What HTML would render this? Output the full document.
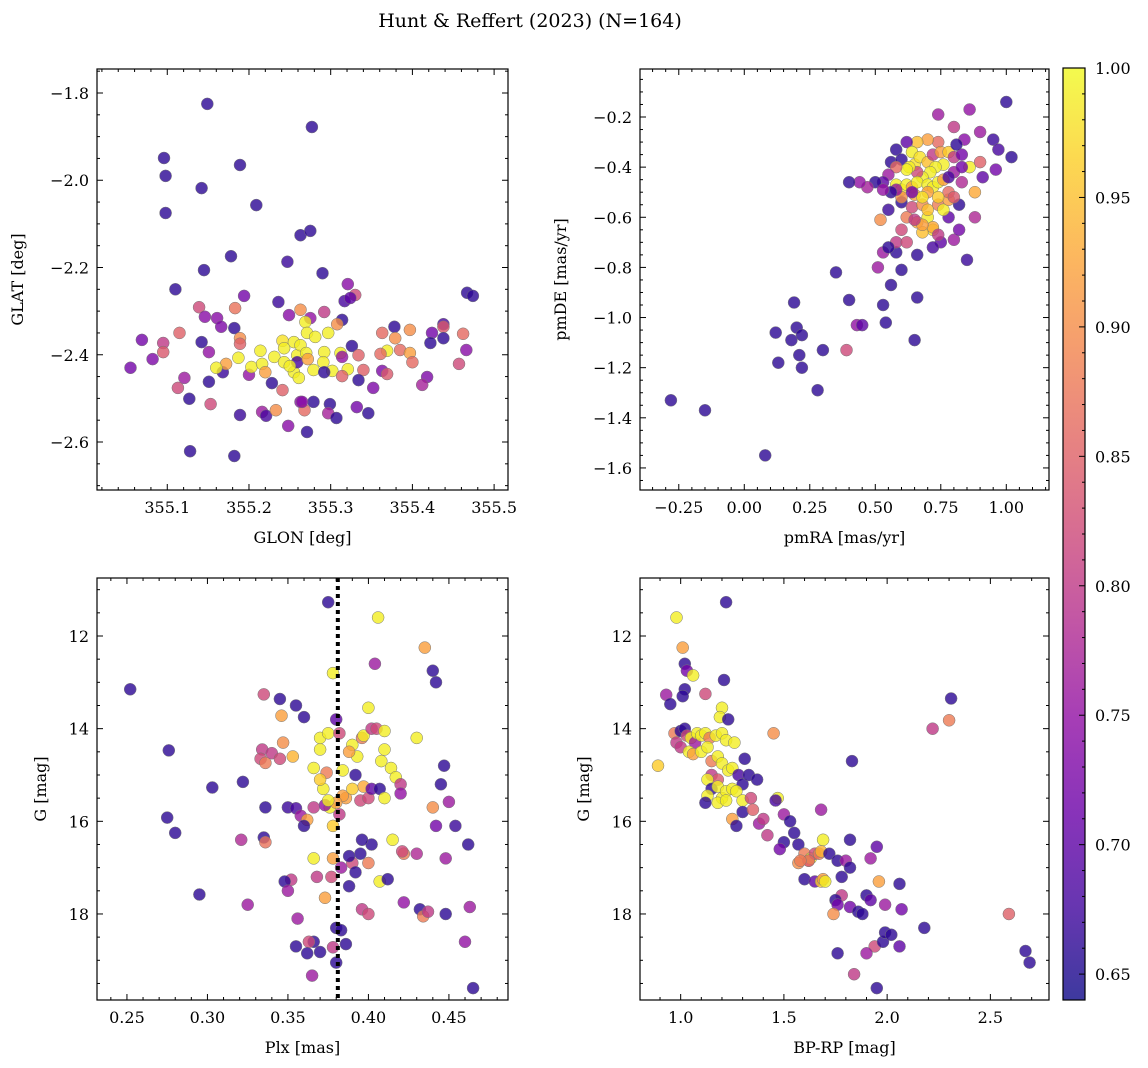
<!DOCTYPE html>
<html><head><meta charset="utf-8">
<style>
html,body{margin:0;padding:0;background:#fff;}
svg{display:block;font-family:"DejaVu Serif","Liberation Serif",serif;}
</style></head>
<body>
<svg id="fig" width="1148" height="1068" viewBox="0 0 1148 1068" xmlns="http://www.w3.org/2000/svg">
<text x="530" y="27" font-size="19" text-anchor="middle">Hunt &amp; Reffert (2023) (N=164)</text>
</svg>
<script>
// ---- Panel 1: GLON / GLAT ----
const p1Glon=[355.149,355.277,355.096,355.098,355.189,355.142,355.098,355.209,355.263,355.275,355.178,355.247,355.145,355.290,
355.110,355.194,355.139,355.183,355.146,355.161,355.166,355.182,355.236,355.249,355.263,355.069,355.095,355.115,355.142,355.151,
355.189,355.189,355.095,355.082,355.055,355.121,355.113,355.151,355.168,355.127,355.153,355.189,355.216,355.221,355.248,355.128,
355.182,355.200,355.228,355.241,355.263,355.214,355.203,355.216,355.231,355.243,355.241,355.255,355.259,355.220,355.255,355.261,
355.243,355.259,355.321,355.330,355.317,355.324,355.292,355.314,355.308,355.275,355.269,355.271,355.297,355.281,355.263,355.270,
355.292,355.291,355.279,355.302,355.321,355.312,355.326,355.334,355.314,355.340,355.314,355.292,355.272,355.334,355.352,355.363,
355.378,355.397,355.379,355.369,355.361,355.385,355.397,355.400,355.363,355.369,355.424,355.422,355.438,355.438,355.438,355.462,
355.466,355.457,355.467,355.474,355.418,355.412,355.279,355.299,355.297,355.307,355.332,355.346,355.271,355.268,355.265,355.233,
355.250,355.187,355.172,355.160];
const p1Glat=[-1.825,-1.878,-1.949,-1.990,-1.965,-2.018,-2.075,-2.057,-2.126,-2.116,-2.174,-2.187,-2.206,-2.213,
-2.250,-2.265,-2.291,-2.293,-2.313,-2.316,-2.336,-2.339,-2.279,-2.309,-2.297,-2.366,-2.373,-2.350,-2.371,-2.394,
-2.362,-2.375,-2.394,-2.410,-2.430,-2.453,-2.476,-2.462,-2.440,-2.501,-2.513,-2.538,-2.531,-2.540,-2.563,-2.621,
-2.632,-2.446,-2.465,-2.481,-2.508,-2.391,-2.428,-2.421,-2.405,-2.417,-2.368,-2.371,-2.401,-2.440,-2.440,-2.453,
-2.385,-2.417,-2.238,-2.263,-2.277,-2.270,-2.302,-2.320,-2.330,-2.316,-2.325,-2.350,-2.350,-2.359,-2.378,-2.396,
-2.394,-2.417,-2.435,-2.437,-2.433,-2.396,-2.380,-2.401,-2.405,-2.435,-2.449,-2.440,-2.410,-2.458,-2.476,-2.350,
-2.336,-2.343,-2.362,-2.391,-2.398,-2.389,-2.396,-2.417,-2.437,-2.444,-2.350,-2.373,-2.330,-2.336,-2.362,-2.352,
-2.389,-2.421,-2.258,-2.265,-2.451,-2.469,-2.508,-2.513,-2.534,-2.545,-2.520,-2.534,-2.577,-2.527,-2.508,-2.527,
-2.426,-2.407,-2.421,-2.430];
const p1Prob=[.66,.66,.66,.66,.66,.66,.66,.66,.66,.66,.66,.67,.66,.66,
.66,.72,.82,.87,.74,.74,.73,.66,.67,.74,.90,.72,.80,.85,.66,.75,
.90,.85,.84,.73,.72,.76,.82,.66,.67,.66,.82,.67,.76,.68,.74,.66,
.66,.75,.66,.85,.74,.99,.99,.99,.99,.99,.98,.99,.99,.92,.99,.99,
.99,.68,.74,.82,.68,.70,.80,.66,.90,.75,.99,.99,.99,.99,.99,.99,
.99,.99,.99,.99,.99,.99,.66,.85,.75,.85,.85,.66,.92,.66,.73,.86,
.66,.90,.90,.99,.86,.86,.92,.86,.73,.84,.72,.66,.68,.84,.66,.86,
.74,.82,.66,.66,.73,.77,.66,.66,.77,.66,.72,.66,.66,.86,.74,.90,
.99,.99,.92,.99];

// ---- Panel 2: pmRA / pmDE ----
const p2PmRA=[-0.28,-0.15,0.08,0.28,0.21,0.22,0.13,0.12,0.18,0.20,0.19,0.22,0.30,0.35,0.40,0.39,0.43,0.45,0.53,0.54,0.56,0.65,0.66,0.60,0.58,0.53,0.51,0.58,0.55,0.62,0.66,0.75,0.72,0.80,0.82,0.85,0.88,0.78,0.72,0.68,0.70,0.66,0.62,0.52,0.55,0.60,0.64,0.68,0.74,0.76,0.78,0.82,0.78,0.83,0.88,0.86,0.90,0.91,0.96,0.95,0.97,1.00,1.02,0.86,0.80,0.84,0.74,0.74,0.70,0.66,0.62,0.58,0.56,0.60,0.64,0.65,0.67,0.70,0.72,0.75,0.78,0.80,0.83,0.76,0.73,0.71,0.68,0.66,0.63,0.62,0.58,0.55,0.53,0.50,0.47,0.44,0.40,0.58,0.60,0.62,0.64,0.66,0.70,0.72,0.74,0.76,0.80,0.83,0.78,0.70,0.65,0.60,0.58,0.56,0.53,0.68,0.74,0.80,0.70,0.72,0.68,0.74,0.60,0.65,0.90,0.81,0.64];
const p2PmDE=[-1.33,-1.37,-1.55,-1.29,-1.15,-1.20,-1.18,-1.06,-1.09,-1.04,-0.94,-1.07,-1.13,-0.82,-0.93,-1.13,-1.03,-1.03,-0.95,-1.02,-0.87,-1.09,-0.92,-0.81,-0.74,-0.74,-0.80,-0.70,-0.72,-0.70,-0.75,-0.70,-0.72,-0.69,-0.65,-0.77,-0.60,-0.60,-0.65,-0.66,-0.60,-0.62,-0.60,-0.61,-0.57,-0.54,-0.56,-0.55,-0.55,-0.57,-0.53,-0.55,-0.50,-0.46,-0.50,-0.40,-0.38,-0.44,-0.41,-0.29,-0.33,-0.14,-0.36,-0.17,-0.24,-0.29,-0.19,-0.30,-0.29,-0.30,-0.30,-0.33,-0.38,-0.37,-0.34,-0.39,-0.36,-0.38,-0.35,-0.34,-0.34,-0.36,-0.35,-0.39,-0.40,-0.42,-0.44,-0.42,-0.40,-0.41,-0.40,-0.43,-0.46,-0.46,-0.48,-0.46,-0.46,-0.47,-0.49,-0.47,-0.48,-0.46,-0.47,-0.48,-0.46,-0.45,-0.42,-0.40,-0.44,-0.50,-0.51,-0.52,-0.49,-0.50,-0.49,-0.52,-0.52,-0.52,-0.57,-0.64,-0.63,-0.67,-0.65,-0.61,-0.26,-0.31,-0.50];
const p2Prob=[.66,.66,.66,.66,.66,.66,.66,.66,.66,.66,.66,.66,.66,.66,.66,.82,.75,.70,.66,.66,.66,.66,.66,.66,.66,.76,.76,.80,.66,.82,.66,.70,.68,.76,.72,.67,.78,.70,.98,.95,.99,.93,.88,.90,.67,.66,.82,.90,.88,.99,.92,.66,.86,.78,.93,.99,.85,.70,.72,.67,.68,.66,.66,.75,.80,.74,.76,.86,.92,.95,.70,.66,.66,.66,.99,.98,.98,.95,.80,.92,.96,.80,.72,.99,.99,.99,.99,.82,.99,.99,.86,.76,.70,.66,.77,.75,.66,.99,.98,.99,.92,.99,.99,.99,.99,.92,.76,.72,.68,.92,.93,.90,.75,.66,.75,.98,.96,.84,.95,.93,.92,.80,.82,.80,.76,.66,.72];

// ---- Panel 3: Plx / G ----
const p3Plx=[0.252,0.276,0.275,0.280,0.295,0.303,0.322,0.321,0.325,0.335,0.345,0.346,0.355,0.360,0.334,0.333,0.336,0.340,0.347,0.353,0.345,0.336,0.335,0.336,0.350,0.355,0.358,0.362,0.360,0.366,0.372,0.374,0.370,0.370,0.375,0.378,0.380,0.382,0.384,0.386,0.382,0.376,0.378,0.373,0.370,0.366,0.390,0.393,0.396,0.397,0.400,0.402,0.405,0.410,0.410,0.408,0.392,0.397,0.395,0.400,0.402,0.407,0.410,0.414,0.417,0.420,0.420,0.430,0.435,0.440,0.442,0.447,0.445,0.450,0.440,0.454,0.442,0.462,0.448,0.422,0.430,0.421,0.415,0.402,0.400,0.396,0.395,0.390,0.388,0.392,0.388,0.383,0.378,0.377,0.373,0.368,0.366,0.352,0.348,0.350,0.356,0.366,0.370,0.363,0.362,0.355,0.365,0.380,0.383,0.386,0.378,0.380,0.375,0.406,0.404,0.407,0.412,0.422,0.432,0.434,0.437,0.448,0.460,0.463,0.465,0.396,0.400,0.384,0.388,0.380,0.375,0.390];
const p3G=[13.15,14.47,15.92,16.25,17.58,15.27,15.15,16.40,17.80,13.26,13.36,13.72,13.50,13.75,14.45,14.65,14.74,14.53,14.30,14.60,14.65,15.70,16.35,16.45,15.70,15.72,15.88,15.97,16.10,15.70,15.30,14.95,14.45,14.20,14.10,12.80,13.80,14.10,14.90,15.50,15.85,15.70,16.10,15.65,15.10,14.85,14.35,14.60,14.20,14.15,13.55,14.00,14.00,14.05,14.45,14.70,15.00,15.25,15.55,15.50,15.30,15.30,15.50,14.85,15.05,15.20,15.40,14.20,12.25,12.75,13.00,14.80,15.20,15.58,15.70,16.10,16.10,16.50,16.80,16.70,16.70,16.65,16.40,16.50,16.90,16.40,16.70,16.90,16.75,17.10,17.40,17.00,16.80,17.20,17.65,17.20,16.80,17.26,17.30,17.50,18.10,18.60,18.82,18.60,18.85,18.70,19.33,18.30,18.35,18.65,18.72,19.05,11.27,11.60,12.60,17.30,17.25,17.75,17.90,18.05,17.95,18.00,18.60,17.85,19.60,17.90,18.00,15.45,14.50,15.60,15.55,15.30];
const p3Prob=[.66,.66,.66,.66,.66,.66,.66,.78,.76,.82,.66,.92,.66,.66,.80,.82,.88,.80,.90,.94,.82,.66,.66,.87,.67,.68,.76,.92,.66,.80,.99,.88,.99,.99,.99,.99,.70,.82,.99,.92,.80,.99,.96,.75,.96,.99,.99,.99,.88,.99,.99,.80,.82,.99,.99,.99,.66,.93,.82,.82,.70,.66,.99,.99,.99,.80,.75,.99,.92,.66,.66,.66,.66,.76,.90,.67,.72,.66,.76,.88,.78,.82,.99,.66,.88,.66,.66,.82,.66,.66,.66,.76,.92,.82,.92,.80,.99,.80,.66,.76,.76,.66,.66,.82,.66,.66,.76,.66,.66,.66,.80,.66,.66,.99,.76,.99,.66,.75,.66,.88,.80,.66,.75,.76,.66,.80,.82,.92,.92,.92,.99,.96];

// ---- Panel 4: BP-RP / G ----
const p4BpRp=[0.98,1.22,1.01,1.02,1.03,1.06,1.02,1.21,0.93,0.95,1.01,1.12,1.20,1.19,1.23,0.89,0.97,0.98,1.00,1.02,1.03,1.05,1.07,1.08,1.10,1.12,1.14,1.17,1.20,1.22,1.26,1.00,1.04,1.06,1.10,1.13,1.15,1.18,1.20,1.23,1.25,1.28,1.30,1.33,1.37,1.45,1.31,1.15,1.18,1.13,1.15,1.18,1.20,1.22,1.25,1.27,1.30,1.34,1.13,1.12,1.18,1.22,1.25,1.27,1.30,1.35,1.38,1.40,1.42,1.47,1.46,1.50,1.53,1.55,1.57,1.50,1.48,1.57,1.60,1.62,1.63,1.65,1.67,1.68,1.60,1.65,1.68,1.69,1.70,1.69,1.68,1.72,1.76,1.80,1.82,1.83,1.82,1.78,1.78,1.75,1.76,1.74,1.82,1.90,1.86,1.92,1.96,1.92,1.95,1.99,2.06,2.07,2.18,2.22,2.31,2.30,2.59,2.67,2.69,1.95,1.94,1.98,1.99,2.02,2.06,1.90,1.84,1.76,1.88,1.62,1.58];
const p4G=[11.60,11.27,12.25,12.60,12.75,12.85,13.15,12.95,13.27,13.47,13.30,13.25,13.55,13.75,13.80,14.80,14.10,14.30,14.05,14.00,14.15,14.20,14.30,14.10,14.15,14.10,14.20,14.15,14.10,14.25,14.30,14.40,14.50,14.55,14.50,14.40,14.70,14.60,14.75,14.90,14.85,15.00,15.20,15.00,15.10,14.10,14.65,15.00,15.10,15.10,15.30,15.25,15.50,15.35,15.30,15.35,15.55,15.50,15.45,15.60,15.60,15.55,15.95,16.10,15.80,15.75,16.05,15.95,16.30,15.50,15.55,15.85,16.00,16.25,16.50,16.45,16.60,16.90,16.70,16.85,16.80,16.70,16.70,16.65,17.25,17.30,17.30,17.25,17.30,16.40,15.75,16.70,16.85,16.85,16.40,14.70,17.00,17.20,17.60,17.70,17.80,18.00,17.85,17.60,17.95,17.70,17.30,16.80,16.55,17.80,17.35,17.90,18.30,14.00,13.35,13.82,18.00,18.80,19.05,19.60,18.70,18.60,18.40,18.45,18.70,18.85,19.30,18.85,18.00,16.85,16.85];
const p4Prob=[.99,.66,.92,.66,.72,.99,.66,.66,.76,.66,.66,.82,.99,.99,.66,.96,.88,.80,.66,.66,.82,.99,.76,.99,.99,.99,.88,.99,.99,.99,.99,.80,.99,.92,.99,.99,.88,.99,.99,.99,.99,.68,.66,.66,.66,.90,.66,.80,.84,.99,.66,.99,.99,.99,.99,.99,.99,.82,.99,.66,.99,.99,.92,.66,.66,.85,.76,.80,.80,.99,.68,.76,.66,.66,.66,.66,.72,.90,.88,.82,.99,.82,.88,.94,.66,.70,.96,.92,.99,.99,.76,.66,.66,.76,.66,.66,.66,.66,.80,.66,.72,.90,.72,.66,.66,.70,.92,.76,.70,.76,.66,.72,.66,.80,.66,.88,.85,.66,.66,.66,.82,.66,.66,.66,.70,.76,.80,.66,.66,.86,.88];

const cbTicks=[0.65,0.70,0.75,0.80,0.85,0.90,0.95,1.00];
const vmin=0.64, vmax=1.0;
const dotLine=0.381;

const NS="http://www.w3.org/2000/svg";
const svg=document.getElementById('fig');
function mk(tag,attrs,parent){const e=document.createElementNS(NS,tag);for(const k in attrs)e.setAttribute(k,attrs[k]);(parent||svg).appendChild(e);return e;}
const stops=[[13,8,135],[65,4,157],[106,0,168],[143,13,164],[177,42,144],[204,71,120],[225,100,98],[242,132,75],[252,166,54],[252,206,37],[240,249,33]];
function plasma(v){let t=Math.max(0,Math.min(1,(v-vmin)/(vmax-vmin)))*10;const i=Math.min(9,Math.floor(t)),f=t-i;const a=stops[i],b=stops[i+1];return 'rgb('+a.map((x,j)=>Math.round(x+(b[j]-x)*f)).join(',')+')';}

function fmt(v,d){let s=v.toFixed(d);return s.replace('-','\u2212');}

function panel(name,box,xr,yr,xMaj,xMin,yMaj,yMin,xd,yd,xs,ys,cs,xlabel,ylabel,ylabX){
  const [L,T,R,B]=box;
  const sx=v=>L+(v-xr[0])/(xr[1]-xr[0])*(R-L);
  const sy=v=>T+(v-yr[0])/(yr[1]-yr[0])*(B-T);
  const g=mk('g',{});
  
  
  const clip=mk('clipPath',{id:name+'-clip'},g);
  mk('rect',{x:L,y:T,width:R-L,height:B-T},clip);
  const pts=mk('g',{'clip-path':'url(#'+name+'-clip)'},g);
  
  
  for(let i=0;i<xs.length;i++){
    const c=mk('circle',{cx:sx(xs[i]).toFixed(1),cy:sy(ys[i]).toFixed(1),r:6,fill:plasma(cs[i]),'fill-opacity':0.8,stroke:'#777','stroke-width':0.5},pts);
    
    
  }
  if(name==='plx-g-panel'){
    const dl=mk('line',{x1:sx(dotLine),x2:sx(dotLine),y1:T,y2:B,stroke:'#000','stroke-width':4,'stroke-dasharray':'4,4'},g);
    
    
  }
  const fr=mk('rect',{x:L,y:T,width:R-L,height:B-T,fill:'none',stroke:'#000','stroke-width':1.2},g);
  
  
  const tk=mk('g',{stroke:'#000','stroke-width':1},g);
  const lo=Math.min(xr[0],xr[1]),hi=Math.max(xr[0],xr[1]);
  for(let k=Math.ceil(lo/xMin-1e-6);k*xMin<=hi+1e-9;k++){
    const v=k*xMin;const isMaj=Math.abs(v/xMaj-Math.round(v/xMaj))<1e-4;const len=isMaj?6:3;const x=sx(v);
    mk('line',{x1:x,x2:x,y1:B,y2:B-len},tk);mk('line',{x1:x,x2:x,y1:T,y2:T+len},tk);
    if(isMaj){const t=mk('text',{x:x,y:B+23,'font-size':16,'text-anchor':'middle',stroke:'none'},g);t.textContent=fmt(v,xd);
      }
  }
  const ylo=Math.min(yr[0],yr[1]),yhi=Math.max(yr[0],yr[1]);
  for(let k=Math.ceil(ylo/yMin-1e-6);k*yMin<=yhi+1e-9;k++){
    const v=k*yMin;const isMaj=Math.abs(v/yMaj-Math.round(v/yMaj))<1e-4;const len=isMaj?6:3;const y=sy(v);
    mk('line',{x1:L,x2:L+len,y1:y,y2:y},tk);mk('line',{x1:R,x2:R-len,y1:y,y2:y},tk);
    if(isMaj){const t=mk('text',{x:L-8,y:y+6,'font-size':16,'text-anchor':'end',stroke:'none'},g);t.textContent=fmt(v,yd);
      }
  }
  const xl=mk('text',{x:(L+R)/2,y:B+53,'font-size':16,'text-anchor':'middle'},g);xl.textContent=xlabel;
  
  const cy=(T+B)/2;
  const yl=mk('text',{x:ylabX,y:cy,'font-size':16,'text-anchor':'middle',transform:'rotate(-90 '+ylabX+' '+cy+')'},g);yl.textContent=ylabel;
  
}

panel('glon-glat-panel',[97,69,508,490],[355.014,355.517],[-1.745,-2.710],0.1,0.02,0.2,0.05,1,1,p1Glon,p1Glat,p1Prob,'GLON [deg]','GLAT [deg]',23);
panel('pm-panel',[640,69,1049,490],[-0.398,1.163],[-0.0085,-1.688],0.25,0.05,0.2,0.05,2,1,p2PmRA,p2PmDE,p2Prob,'pmRA [mas/yr]','pmDE [mas/yr]',566);
panel('plx-g-panel',[97,578,508,1000],[0.2314,0.4867],[10.748,19.857],0.05,0.01,2,0.5,2,0,p3Plx,p3G,p3Prob,'Plx [mas]','G [mag]',46);
panel('cmd-panel',[640,578,1049,1000],[0.803,2.784],[10.748,19.857],0.5,0.1,2,0.5,1,0,p4BpRp,p4G,p4Prob,'BP-RP [mag]','G [mag]',589);

// colorbar
const cb=mk('g',{});


const defs=mk('defs',{},cb);
const lg=mk('linearGradient',{id:'cbgrad',x1:0,y1:1,x2:0,y2:0},defs);
for(let i=0;i<=20;i++){const v=vmin+(vmax-vmin)*i/20;mk('stop',{offset:i/20,'stop-color':plasma(v),'stop-opacity':0.8},lg);}
const cT=68,cB=1000,cL=1063,cR=1085;
const cyS=v=>cB-(v-vmin)/(vmax-vmin)*(cB-cT);
mk('rect',{x:cL,y:cT,width:cR-cL,height:cB-cT,fill:'url(#cbgrad)',stroke:'#000','stroke-width':1.2},cb);
for(let k=Math.ceil(vmin/0.01-1e-6);k*0.01<=vmax+1e-9;k++){const v=k*0.01;const y=cyS(v);const isMaj=cbTicks.some(t=>Math.abs(t-v)<1e-6);
  mk('line',{x1:cR,x2:cR-(isMaj?6:3),y1:y,y2:y,stroke:'#000','stroke-width':1},cb);}
cbTicks.forEach(v=>{const t=mk('text',{x:cR+10,y:cyS(v)+6,'font-size':16},cb);t.textContent=v.toFixed(2);
  });
</script>
</body></html>
